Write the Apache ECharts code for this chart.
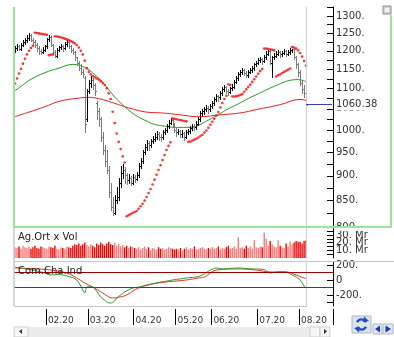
<!DOCTYPE html>
<html>
<head>
<meta charset="utf-8">
<script src="https://cdn.jsdelivr.net/npm/echarts@6/dist/echarts.min.js"></script>
<style>
  html, body { margin: 0; padding: 0; background: #fff; }
  #chart { width: 394px; height: 337px; }
</style>
</head>
<body>
<div id="chart"></div>
<script>
// ---- calendar: trading days per month shown on the time axis ----
const monthNames = ['01.20', '02.20', '03.20', '04.20', '05.20', '06.20', '07.20', '08.20'];
const monthDays = [16, 21, 23, 21, 18, 23, 21, 4];
const spareSlots = 13;

// ---- daily prices ----
const opens = [1202,1207,1212,1205,1217,1224,1231,1237,1243,1231,1224,1217,1207,1200,1197,1202,
  1212,1233,1239,1217,1197,1187,1202,1210,1214,1207,1220,1224,1212,1202,1197,1182,1168,1153,1143,1128,1025,
  1093,1113,1123,1108,1064,1044,1025,985,956,931,911,867,837,827,852,857,886,906,911,901,891,896,886,
  898,894,901,921,931,951,961,971,966,976,980,985,990,985,983,995,1000,1010,1017,1023,1015,
  1000,995,997,990,993,985,995,997,1005,1010,1007,1015,1025,1039,1044,1049,1052,1049,
  1056,1064,1074,1081,1079,1088,1098,1103,1095,1091,1101,1105,1118,1128,1138,1143,1148,1141,1135,1143,1148,1153,1163,
  1168,1175,1177,1173,1182,1192,1198,1168,1182,1187,1192,1197,1190,1194,1200,1192,1197,1202,1204,1182,1163,
  1143,1113,1098,1088];
const highs = [1214,1218,1217,1222,1229,1237,1243,1249,1246,1235,1229,1222,1212,1206,1210,1217,
  1237,1243,1241,1220,1202,1207,1214,1220,1217,1224,1229,1226,1215,1208,1200,1184,1173,1163,1151,1133,1098,
  1121,1133,1128,1113,1069,1052,1030,995,966,956,921,886,857,862,877,896,921,924,918,906,903,899,904,
  902,908,926,938,956,968,977,975,980,987,993,997,995,990,1000,1005,1015,1023,1027,1025,1017,
  1005,1003,1000,1000,995,1000,1003,1010,1015,1013,1020,1030,1044,1050,1054,1058,1056,1062,
  1070,1078,1087,1085,1093,1103,1109,1107,1099,1105,1111,1123,1133,1143,1149,1153,1151,1145,1149,1153,1159,1168,1173,
  1180,1184,1180,1188,1198,1202,1201,1187,1194,1198,1202,1200,1200,1206,1202,1202,1208,1206,1208,1186,1168,
  1148,1121,1108,1093];
const lows = [1197,1202,1201,1202,1212,1220,1225,1231,1226,1217,1210,1200,1192,1190,1194,1199,
  1209,1226,1212,1192,1182,1184,1198,1204,1200,1204,1214,1207,1197,1190,1175,1161,1148,1138,1131,995,1020,
  1088,1103,1098,1083,1025,1010,976,946,921,906,857,832,822,825,845,852,878,896,886,884,886,881,884,
  888,891,898,916,926,946,956,954,961,971,976,980,977,976,980,990,995,1005,1013,1007,995,
  987,990,983,985,977,981,990,993,1000,1001,1003,1011,1021,1034,1038,1044,1040,1044,
  1052,1060,1070,1070,1075,1083,1093,1089,1083,1088,1097,1101,1113,1123,1133,1138,1135,1129,1131,1139,1143,1149,1158,
  1163,1169,1165,1169,1178,1188,1163,1131,1178,1182,1188,1184,1186,1190,1186,1188,1192,1196,1177,1153,1133,
  1108,1088,1078,990];
const closes = [1207,1212,1205,1217,1224,1231,1237,1243,1231,1224,1217,1207,1200,1197,1202,1212,
  1233,1239,1217,1197,1187,1202,1210,1214,1207,1220,1224,1212,1202,1197,1182,1168,1153,1143,1138,1015,1093,
  1113,1123,1108,1093,1044,1025,985,956,931,911,867,837,827,852,857,886,906,911,901,891,896,886,898,
  894,901,921,931,951,961,971,966,976,980,985,990,985,983,995,1000,1010,1017,1023,1015,1000,
  995,997,990,993,985,995,997,1005,1010,1007,1015,1025,1039,1044,1049,1052,1049,1056,
  1064,1074,1081,1079,1088,1098,1103,1095,1091,1101,1105,1118,1128,1138,1143,1148,1141,1135,1143,1148,1153,1163,1168,
  1175,1177,1173,1182,1192,1200,1168,1182,1187,1192,1197,1190,1194,1200,1192,1197,1202,1204,1182,1163,1143,
  1113,1098,1088,1060.38];
const lastClose = 1060.38;

// ---- parabolic SAR, one dot per day ----
const sar = [1113,1126,1139,1151,1165,1178,1190,1200,1208,1214,
  1251,1250,1249,1248,1247,1246,1245,1188,1189,1190,
  1241,1240,1239,1238,1236,1234,1232,1230,1227,1224,1221,1216,1209,1200,1190,1173,1153,1143,1137,1132,
  1129,1126,1123,1119,1114,1109,1101,1088,1074,1043,1016,992,973,957,941,928,
  820,822,824,826,828,830,834,839,844,850,857,865,873,882,892,902,912,922,933,944,955,964,972,
  1027,1026,1025,1024,1023,1022,1021,1020,
  973,974,976,978,980,983,986,989,994,999,1005,1012,1019,1026,1034,1042,1053,1064,1074,1082,
  1111,1109,
  1080,1080,1081,1082,1084,1086,1092,1098,1104,1110,1117,1124,1131,1138,1145,1151,
  1206,1206,1205,1204,1203,1201,
  1131,1134,1137,1140,1143,1146,1149,1152,
  1210,1209,1206,1201,1194,1184,1172,1160];

// ---- moving averages (day index, level) ----
const ma50Days = [0,5,7,15,22,29,35,40,45,50,55,60,65,70,75,80,88,92,97,102,107,112,117,122,127,132,137,142,146];
const ma50 = [1095,1113,1121,1141,1153,1163,1155,1136,1110,1079,1055,1036,1023,1013,1009,1006,1006,1011,1023,1036,1050,1062,1075,1087,1099,1110,1120,1123,1118];
const ma200Days = [0,7,15,22,30,37,42,47,52,57,66,74,82,92,104,113,121,133,143,146];
const ma200 = [1031,1042,1055,1068,1075,1078,1075,1068,1060,1052,1042,1040,1036,1031,1036,1040,1048,1060,1073,1070];

// ---- volume, millions ----
const volume = [14,13,15,12,16,14,13,15,12,14,16,13,12,15,14,13,
  12,15,14,13,16,12,11,14,13,12,15,14,13,16,18,17,19,16,18,20,17,
  15,18,16,14,19,17,20,18,16,19,21,18,17,20,16,18,15,17,14,16,13,15,14,
  13,12,14,11,13,15,12,14,10,13,12,11,14,12,13,11,12,14,13,12,11,
  12,11,13,10,12,14,11,13,12,15,11,12,13,14,12,11,13,12,
  14,12,13,15,11,13,12,14,16,12,13,15,12,27,13,14,12,16,13,15,12,23,14,
  13,15,14,33,25,16,22,18,15,14,23,16,14,13,19,15,21,18,20,22,21,
  21,19,22,23];

// ---- commodity channel index: fast and slow lines (day index, value) ----
const cciFastDays = [0,5,9,14,18,22,26,29,31,33,34,35,36,38,39,41,43,45,46,47,48,50,51,53,55,57,59,62,66,69,73,76,79,83,86,89,91,94,96,98,101,104,108,113,117,121,125,128,131,134,136,139,141,143,145,146];
const cciFast = [173,150,133,100,67,75,53,30,0,-80,-133,-173,-93,-85,-93,-150,-227,-270,-293,-305,-307,-280,-240,-200,-160,-130,-107,-95,-67,-50,-27,-15,0,15,27,35,40,67,100,133,160,147,155,160,150,147,140,93,107,110,107,67,40,0,-80,-107];
const cciSlowDays = [0,9,18,26,31,35,37,40,44,49,52,56,62,72,86,92,95,101,113,121,128,136,141,145,146];
const cciSlow = [160,150,133,93,27,-40,-67,-110,-173,-240,-230,-200,-107,-40,0,27,40,133,147,133,107,107,67,27,20];

// ---- axis tick values ----
const priceTicks = [800,825,850,875,900,925,950,975,1000,1025,1050,1075,1100,1125,1150,1175,1200,1225,1250,1275,1300,1325];
const priceLabels = [800,850,900,950,1000,1050,1100,1150,1200,1250,1300];
const volTicks = [5,10,15,20,25,30,35];
const volLabelsOuter = [10,30];
const volLabelsMid = [20];
const cciTicks = [-300,-200,-100,0,100,200];
const cciLabels = [-200,0,200];
const cciBands = [100,-100];

// ---------------------------------------------------------------
const FONT = 'DejaVu Sans';
const ln = Math.log;
const priceMin = ln(799.9), priceMax = ln(1327.2);

const categories = [];
monthNames.forEach((m, mi) => {
  for (let d = 1; d <= monthDays[mi]; d++) categories.push(m + '|' + d);
});
const lastIdx = categories.length - 1;
for (let k = 1; k <= spareSlots; k++) categories.push('+' + k);
const endIdx = categories.length - 1;

const isMonthStart = (i, v) => i > 0 && typeof v === 'string' && v.endsWith('|1');

const ohlcData = opens.map((o, i) => [i, ln(o), ln(highs[i]), ln(lows[i]), ln(closes[i]), closes[i] >= o ? 1 : 0]);
const sarData = sar.map((v, i) => [i, ln(v)]);
const ma50Data = ma50Days.map((d, i) => [d, ln(ma50[i])]);
const ma200Data = ma200Days.map((d, i) => [d, ln(ma200[i])]);
const volData = volume.map((v, i) => ({
  value: [i, v],
  itemStyle: { color: closes[i] >= opens[i] ? '#ff7878' : '#f00000' }
}));
const fastData = cciFastDays.map((d, i) => [d, cciFast[i]]);
const slowData = cciSlowDays.map((d, i) => [d, cciSlow[i]]);

const gridL = 14, gridW = 319;
const cursorLine = { xAxis: categories[lastIdx], lineStyle: { color: '#cfcfcf', width: 1, type: 'solid' } };

const chart = echarts.init(document.getElementById('chart'), null, { renderer: 'canvas' });

const axisText = { fontFamily: FONT, fontSize: 10, color: '#333', hideOverlap: false, showMinLabel: true, showMaxLabel: true, margin: 3 };
const blackLine = { show: true, onZero: false, lineStyle: { color: '#000' } };
const noLine = { show: false, onZero: false };
const ticksAt = vals => ({ show: true, inside: true, length: 6, customValues: vals, lineStyle: { color: '#000' } });

chart.setOption({
  animation: false,
  backgroundColor: '#fff',
  grid: [
    { left: gridL, top: 7, width: gridW, height: 220 },
    { left: gridL, top: 228, width: gridW, height: 30 },
    { left: gridL, top: 262, width: gridW, height: 44 }
  ],
  xAxis: [
    { type: 'category', gridIndex: 0, data: categories, show: false, axisLine: { onZero: false } },
    { type: 'category', gridIndex: 1, data: categories, show: false, axisLine: { onZero: false } },
    {
      type: 'category', gridIndex: 2, data: categories, offset: 3, position: 'bottom',
      axisLine: { show: false, onZero: false },
      axisTick: { show: true, interval: isMonthStart, length: 16, lineStyle: { color: '#000' } },
      axisLabel: {
        interval: isMonthStart, formatter: v => v.split('|')[0], hideOverlap: false,
        fontFamily: FONT, fontSize: 9, color: '#333', align: 'left', margin: 7, padding: [0, 0, 0, 1]
      },
      splitLine: { show: false }
    }
  ],
  yAxis: [
    {
      type: 'value', gridIndex: 0, position: 'right', min: priceMin, max: priceMax,
      axisLine: blackLine, axisTick: ticksAt(priceTicks.map(ln)),
      axisLabel: Object.assign({ customValues: priceLabels.map(ln), formatter: v => Math.round(Math.exp(v)) + '.' }, axisText),
      splitLine: { show: false }
    },
    {
      type: 'value', gridIndex: 1, position: 'right', min: 0, max: 39,
      axisLine: blackLine, axisTick: ticksAt(volTicks),
      axisLabel: Object.assign({ customValues: volLabelsOuter, formatter: v => v + '. Mr' }, axisText),
      splitLine: { show: false }
    },
    {
      type: 'value', gridIndex: 2, position: 'right', min: -346.7, max: 240,
      axisLine: blackLine, axisTick: ticksAt(cciTicks),
      axisLabel: Object.assign({ customValues: cciLabels, formatter: v => (v === 0 ? '0' : v + '.') }, axisText),
      splitLine: { show: false }
    },
    {
      type: 'value', gridIndex: 1, position: 'right', min: 0, max: 39,
      axisLine: noLine, axisTick: { show: false },
      axisLabel: Object.assign({ customValues: volLabelsMid, formatter: v => v + '. Mr' }, axisText),
      splitLine: { show: false }
    },
    {
      type: 'value', gridIndex: 0, position: 'right', min: priceMin, max: priceMax,
      axisLine: noLine, axisTick: { show: false },
      axisLabel: Object.assign({
        customValues: [ln(lastClose)], formatter: () => lastClose.toFixed(2),
        backgroundColor: '#fff', padding: [1, 0, 1, 0]
      }, axisText),
      splitLine: { show: false }
    }
  ],
  series: [
    {
      name: 'MA 200', type: 'line', xAxisIndex: 0, yAxisIndex: 0, data: ma200Data,
      smooth: 0.4, showSymbol: false, lineStyle: { color: '#ee1c1c', width: 1 }, z: 2,
      markLine: {
        silent: true, symbol: ['none', 'none'], label: { show: false },
        data: [
          cursorLine,
          [
            { coord: [categories[lastIdx], ln(lastClose)], lineStyle: { color: '#3a3ac8', width: 1, type: 'solid' } },
            { coord: [categories[endIdx], ln(lastClose)] }
          ]
        ]
      }
    },
    {
      name: 'MA 50', type: 'line', xAxisIndex: 0, yAxisIndex: 0, data: ma50Data,
      smooth: 0.4, showSymbol: false, lineStyle: { color: '#249a24', width: 1 }, z: 2
    },
    {
      name: 'Kurs', type: 'custom', xAxisIndex: 0, yAxisIndex: 0, data: ohlcData, z: 3,
      encode: { x: 0, y: [1, 2, 3, 4] },
      renderItem: function (params, api) {
        const i = api.value(0);
        const pO = api.coord([i, api.value(1)]);
        const pH = api.coord([i, api.value(2)]);
        const pL = api.coord([i, api.value(3)]);
        const pC = api.coord([i, api.value(4)]);
        const x = Math.round(pH[0]) + 0.5;
        const yo = Math.round(pO[1]) + 0.5, yc = Math.round(pC[1]) + 0.5;
        const style = { stroke: api.value(5) ? '#000' : '#7a7a7a', lineWidth: 1 };
        return {
          type: 'group',
          children: [
            { type: 'line', shape: { x1: x, y1: Math.round(pH[1]), x2: x, y2: Math.round(pL[1]) + 1 }, style },
            { type: 'line', shape: { x1: x - 1.5, y1: yo, x2: x, y2: yo }, style },
            { type: 'line', shape: { x1: x, y1: yc, x2: x + 1.5, y2: yc }, style }
          ]
        };
      }
    },
    {
      name: 'SAR', type: 'scatter', xAxisIndex: 0, yAxisIndex: 0, data: sarData,
      symbol: 'circle', symbolSize: 2.6, itemStyle: { color: '#ff0000' }, z: 4
    },
    {
      name: 'Vol', type: 'bar', xAxisIndex: 1, yAxisIndex: 1, data: volData,
      barWidth: 1.4, z: 2,
      markLine: { silent: true, symbol: ['none', 'none'], label: { show: false }, data: [cursorLine] }
    },
    {
      name: 'CCI slow', type: 'line', xAxisIndex: 2, yAxisIndex: 2, data: slowData,
      smooth: 0.4, showSymbol: false, lineStyle: { color: '#ff2a2a', width: 1 }, z: 3,
      markLine: {
        silent: true, symbol: ['none', 'none'], label: { show: false },
        data: [
          cursorLine,
          { yAxis: cciBands[0], lineStyle: { color: '#a00000', width: 1, type: 'solid' } },
          { yAxis: cciBands[1], lineStyle: { color: '#007000', width: 1, type: 'solid' } }
        ]
      }
    },
    {
      name: 'CCI fast', type: 'line', xAxisIndex: 2, yAxisIndex: 2, data: fastData,
      smooth: 0.3, showSymbol: false, lineStyle: { color: '#2c9a2c', width: 1 }, z: 4
    }
  ],
  graphic: [
    // panel frames
    { type: 'line', z: 50, shape: { x1: 14, y1: 7, x2: 14, y2: 227 }, style: { stroke: '#98e698', lineWidth: 2 } },
    { type: 'line', z: 50, shape: { x1: 391, y1: 15, x2: 391, y2: 227 }, style: { stroke: '#98e698', lineWidth: 2 } },
    { type: 'rect', z: 49, shape: { x: 334, y: 228, width: 57, height: 3 }, style: { fill: '#fff' } },
    { type: 'line', z: 50, shape: { x1: 13, y1: 227, x2: 392, y2: 227 }, style: { stroke: '#98e698', lineWidth: 2 } },
    { type: 'line', z: 50, shape: { x1: 14, y1: 228, x2: 14, y2: 306 }, style: { stroke: '#c8c8c8', lineWidth: 1.5 } },
    { type: 'line', z: 50, shape: { x1: 14, y1: 261.5, x2: 394, y2: 261.5 }, style: { stroke: '#c4c4c4', lineWidth: 1 } },
    { type: 'line', z: 50, shape: { x1: 14, y1: 306.5, x2: 307, y2: 306.5 }, style: { stroke: '#c4c4c4', lineWidth: 1 } },
    // panel captions
    { type: 'text', z: 60, x: 18, y: 237, style: { text: 'Ag.Ort x Vol', fontFamily: FONT, fontSize: 10, fill: '#222', verticalAlign: 'middle' } },
    { type: 'text', z: 60, x: 18, y: 271, style: { text: 'Com.Cha.Ind', fontFamily: FONT, fontSize: 10, fill: '#222', verticalAlign: 'middle' } },
    // window button
    { type: 'rect', z: 60, shape: { x: 383, y: 6, width: 8, height: 8 }, style: { fill: '#d4d4d4', stroke: '#8a8a8a', lineWidth: 1 } },
    { type: 'rect', z: 61, shape: { x: 385, y: 8, width: 4, height: 4 }, style: { fill: '#f4f4f4' } },
    // scroll bar
    { type: 'rect', z: 60, shape: { x: 14, y: 327, width: 316, height: 10 }, style: { fill: '#ececec' } },
    { type: 'rect', z: 61, shape: { x: 14, y: 327, width: 14, height: 10 }, style: { fill: '#f6f6f6', stroke: '#cfcfcf', lineWidth: 1 } },
    { type: 'polygon', z: 62, shape: { points: [[22, 329], [22, 334], [19, 331.5]] }, style: { fill: '#333' } },
    { type: 'rect', z: 61, shape: { x: 310, y: 327, width: 10, height: 10 }, style: { fill: '#f6f6f6', stroke: '#cfcfcf', lineWidth: 1 } },
    { type: 'rect', z: 61, shape: { x: 320, y: 327, width: 10, height: 10 }, style: { fill: '#f6f6f6', stroke: '#cfcfcf', lineWidth: 1 } },
    { type: 'polygon', z: 62, shape: { points: [[324, 329], [324, 334], [327, 331.5]] }, style: { fill: '#333' } },
    // refresh and step buttons
    { type: 'rect', z: 60, shape: { x: 352, y: 316, width: 19, height: 17 }, style: { fill: '#dde4ee', stroke: '#aab6c8', lineWidth: 1 } },
    { type: 'arc', z: 61, shape: { cx: 361.5, cy: 324.5, r: 5, startAngle: Math.PI * 0.15, endAngle: Math.PI * 0.85 }, style: { stroke: '#2050c8', lineWidth: 2.5, fill: null } },
    { type: 'arc', z: 61, shape: { cx: 361.5, cy: 324.5, r: 5, startAngle: Math.PI * 1.15, endAngle: Math.PI * 1.85 }, style: { stroke: '#2050c8', lineWidth: 2.5, fill: null } },
    { type: 'polygon', z: 62, shape: { points: [[364, 316.5], [369, 321], [363, 322]] }, style: { fill: '#2050c8' } },
    { type: 'polygon', z: 62, shape: { points: [[359, 332.5], [354, 328], [360, 327]] }, style: { fill: '#2050c8' } },
    { type: 'rect', z: 60, shape: { x: 373, y: 324, width: 9, height: 10 }, style: { fill: '#e4e8ee', stroke: '#b0b8c4', lineWidth: 1 } },
    { type: 'rect', z: 60, shape: { x: 383, y: 324, width: 10, height: 10 }, style: { fill: '#e4e8ee', stroke: '#b0b8c4', lineWidth: 1 } },
    { type: 'polygon', z: 61, shape: { points: [[380, 325.5], [380, 332.5], [375, 329]] }, style: { fill: '#1038d0' } },
    { type: 'polygon', z: 61, shape: { points: [[385.5, 325.5], [385.5, 332.5], [391, 329]] }, style: { fill: '#1038d0' } }
  ]
});
</script>
</body>
</html>
